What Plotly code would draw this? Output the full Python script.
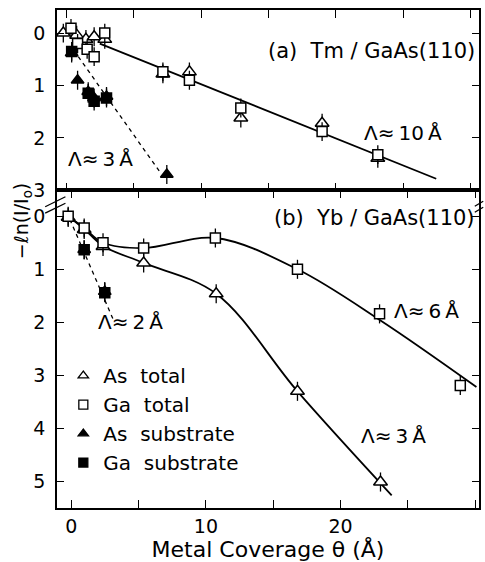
import plotly.graph_objects as go

# ---------------- data: (a) Tm / GaAs(110) ----------------
tm_as_total_x = [-0.25, 0.74, 1.43, 2.04, 2.83, 7.15, 9.12, 12.94, 18.98, 23.12]
tm_as_total_y = [0.00, 0.04, 0.12, 0.07, 0.12, 0.78, 0.74, 1.62, 1.72, 2.39]
tm_ga_total_x = [0.32, 0.81, 1.52, 2.04, 2.83, 7.15, 9.12, 12.94, 18.98, 23.12]
tm_ga_total_y = [-0.09, 0.20, 0.31, 0.45, 0.00, 0.74, 0.90, 1.43, 1.88, 2.32]
tm_as_sub_x = [0.37, 0.81, 1.60, 2.04, 2.96, 7.44]
tm_as_sub_y = [0.38, 0.90, 1.12, 1.24, 1.21, 2.70]
tm_ga_sub_x = [0.37, 1.60, 2.04, 2.96]
tm_ga_sub_y = [0.35, 1.15, 1.30, 1.24]
# fitted attenuation lines
tm_total_fit_x = [2.46, 27.46]
tm_total_fit_y = [0.20, 2.78]
tm_sub_fit_x = [0.86, 6.90]
tm_sub_fit_y = [0.45, 2.64]

# ---------------- data: (b) Yb / GaAs(110) ----------------
yb_as_total_x = [-0.24, 0.95, 2.35, 5.37, 10.76, 16.80, 22.97]
yb_as_total_y = [0.02, 0.25, 0.57, 0.88, 1.46, 3.30, 5.01]
yb_ga_total_x = [-0.24, 0.95, 2.35, 5.37, 10.70, 16.80, 22.90, 28.90]
yb_ga_total_y = [0.00, 0.22, 0.50, 0.60, 0.41, 1.00, 1.84, 3.19]
yb_as_sub_x = [0.95, 2.48]
yb_as_sub_y = [0.63, 1.42]
yb_ga_sub_x = [0.95, 2.48]
yb_ga_sub_y = [0.63, 1.44]
# guide curves through the total signals
yb_as_curve_x = [-0.24, 0.95, 2.35, 5.37, 10.76, 16.80, 23.80]
yb_as_curve_y = [0.00, 0.24, 0.56, 0.88, 1.46, 3.30, 5.26]
yb_ga_curve_x = [-0.24, 0.95, 2.35, 5.37, 10.70, 16.80, 23.00, 30.10]
yb_ga_curve_y = [0.00, 0.22, 0.50, 0.60, 0.41, 1.00, 1.97, 3.22]
yb_sub_fit_x = [-0.11, 3.20]
yb_sub_fit_y = [0.06, 2.00]

ERR = 0.18  # vertical error half-length

x_labels = [0, 10, 20, 30]
x_ticks_all = [0, 5, 10, 15, 20, 25, 30]

FONT = "DejaVu Sans"
BLACK = "black"

fig = go.Figure()


def add_points(x, y, symbol, filled, size, xa, ya):
    fig.add_trace(go.Scatter(
        x=x, y=y, mode="markers", xaxis=xa, yaxis=ya, showlegend=False,
        marker=dict(symbol=symbol, size=size,
                    color=BLACK if filled else "white",
                    line=dict(color=BLACK, width=1.5)),
        error_y=dict(type="constant", value=ERR, width=0,
                     thickness=1.3, color=BLACK),
        cliponaxis=False,
    ))


def add_line(x, y, xa, ya, dash="solid", shape="linear", width=1.8):
    fig.add_trace(go.Scatter(
        x=x, y=y, mode="lines", xaxis=xa, yaxis=ya, showlegend=False,
        line=dict(color=BLACK, width=width, dash=dash, shape=shape,
                  smoothing=1.0),
        hoverinfo="skip",
    ))


# panel (a)
add_line(tm_total_fit_x, tm_total_fit_y, "x2", "y2")
add_line(tm_sub_fit_x, tm_sub_fit_y, "x2", "y2", dash="4px,4px", width=1.3)
add_points(tm_as_total_x, tm_as_total_y, "triangle-up", False, 12, "x2", "y2")
add_points(tm_ga_total_x, tm_ga_total_y, "square", False, 10, "x2", "y2")
add_points(tm_as_sub_x, tm_as_sub_y, "triangle-up", True, 11, "x2", "y2")
add_points(tm_ga_sub_x, tm_ga_sub_y, "square", True, 10, "x2", "y2")

# panel (b)
add_line(yb_ga_curve_x, yb_ga_curve_y, "x", "y", shape="spline")
add_line(yb_as_curve_x, yb_as_curve_y, "x", "y", shape="spline")
add_line(yb_sub_fit_x, yb_sub_fit_y, "x", "y", dash="4px,4px", width=1.3)
add_points(yb_as_total_x, yb_as_total_y, "triangle-up", False, 12, "x", "y")
add_points(yb_ga_total_x, yb_ga_total_y, "square", False, 10, "x", "y")
add_points(yb_as_sub_x, yb_as_sub_y, "triangle-up", True, 11, "x", "y")
add_points(yb_ga_sub_x, yb_ga_sub_y, "square", True, 10, "x", "y")

# legend entries
legend_items = [
    ("As\u00a0\u00a0total", "triangle-up-open"),
    ("Ga\u00a0\u00a0total", "square-open"),
    ("As\u00a0\u00a0substrate", "triangle-up"),
    ("Ga\u00a0\u00a0substrate", "square"),
]
for name, sym in legend_items:
    fig.add_trace(go.Scatter(
        x=[None], y=[None], mode="markers", name=name, xaxis="x", yaxis="y",
        marker=dict(symbol=sym, size=9, color=BLACK,
                    line=dict(color=BLACK, width=1.3)),
    ))

axis_common = dict(
    showline=True, linecolor=BLACK, linewidth=1.5, mirror="ticks",
    ticks="inside", tickcolor=BLACK, tickwidth=1.3,
    showgrid=False, zeroline=False,
    tickfont=dict(family=FONT, size=19, color=BLACK),
)

dom_split = 0.638

fig.update_layout(
    width=485, height=562,
    margin=dict(l=57, r=4, t=10, b=54),
    paper_bgcolor="white", plot_bgcolor="white",
    font=dict(family=FONT, size=19, color=BLACK),
    xaxis=dict(axis_common, anchor="y", range=[-1.07, 30.29],
               tickvals=x_labels, ticklen=8,
               minor=dict(tickvals=x_ticks_all, ticks="inside", ticklen=8,
                          tickwidth=1.3, tickcolor=BLACK, showgrid=False),
               title=dict(text="Metal Coverage \u03b8 (\u00c5)", standoff=1,
                          font=dict(family=FONT, size=22))),
    yaxis=dict(axis_common, anchor="x", domain=[0, dom_split],
               range=[5.5, -0.49], tickvals=[0, 1, 2, 3, 4, 5], ticklen=7,
               ticklabelstandoff=6),
    xaxis2=dict(axis_common, anchor="y2", range=[-0.72, 30.64],
                tickvals=x_ticks_all, showticklabels=False, ticklen=8),
    yaxis2=dict(axis_common, anchor="x2", domain=[dom_split, 1],
                range=[3.0, -0.44], tickvals=[0, 1, 2, 3], ticklen=7,
                ticklabelstandoff=6),
    showlegend=True,
    legend=dict(x=0.015, y=0.305, xanchor="left", yanchor="top",
                bgcolor="rgba(0,0,0,0)", font=dict(family=FONT, size=20),
                itemwidth=30, tracegroupgap=0),
)

ann_font = dict(family=FONT, size=20, color=BLACK)
panel_font = dict(family=FONT, size=21, color=BLACK)
annotations = [
    dict(text="(a)\u00a0\u00a0Tm / GaAs(110)", x=0.995, y=0.918, xref="paper",
         yref="paper", xanchor="right", yanchor="middle", showarrow=False,
         font=panel_font),
    dict(text="(b)\u00a0\u00a0Yb / GaAs(110)", x=0.995, y=0.582, xref="paper",
         yref="paper", xanchor="right", yanchor="middle", showarrow=False,
         font=panel_font),
    dict(text="\u039b\u2248\u20093\u2009\u00c5", x=2.5, y=2.4, xref="x2", yref="y2",
         yanchor="middle", showarrow=False, font=ann_font),
    dict(text="\u039b\u2248\u200910\u2009\u00c5", x=25.0, y=1.9, xref="x2",
         yref="y2", yanchor="middle", showarrow=False, font=ann_font),
    dict(text="\u039b\u2248\u20092\u2009\u00c5", x=4.4, y=2.0, xref="x", yref="y",
         yanchor="middle", showarrow=False, font=ann_font),
    dict(text="\u039b\u2248\u20096\u2009\u00c5", x=26.4, y=1.78, xref="x", yref="y",
         yanchor="middle", showarrow=False, font=ann_font),
    dict(text="\u039b\u2248\u20093\u2009\u00c5", x=23.9, y=4.15, xref="x", yref="y",
         yanchor="middle", showarrow=False, font=ann_font),
    dict(text="\u2212\u2113n(I/I<sub>o</sub>)", x=-0.083, y=0.576,
         xref="paper", yref="paper", xanchor="center", yanchor="middle",
         textangle=-90, showarrow=False,
         font=dict(family=FONT, size=19, color=BLACK)),
]
fig.update_layout(annotations=annotations)

# axis-break marks at the junction of the two panels
brk = dict(type="line", xref="paper", yref="paper",
           line=dict(color=BLACK, width=1.3))
fig.update_layout(shapes=[
    dict(brk, x0=-0.028, x1=0.02, y0=0.605, y1=0.625),
    dict(brk, x0=-0.028, x1=0.02, y0=0.592, y1=0.612),
    dict(brk, x0=0.99, x1=1.01, y0=0.606, y1=0.616),
    dict(brk, x0=0.99, x1=1.01, y0=0.594, y1=0.604),
])

fig.write_html("out.html")
